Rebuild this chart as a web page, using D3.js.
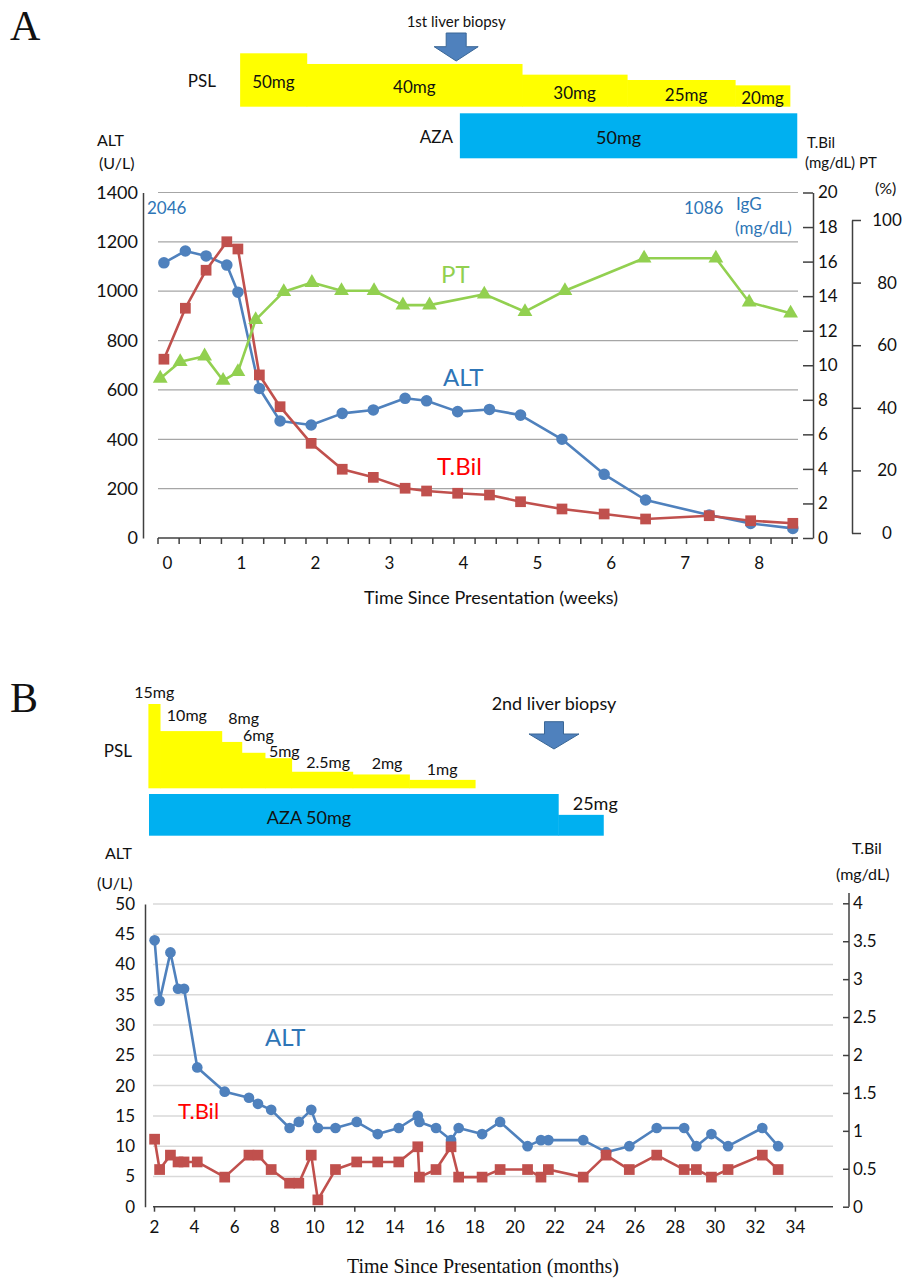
<!DOCTYPE html>
<html>
<head>
<meta charset="utf-8">
<script src="https://cdn.jsdelivr.net/npm/d3@7"></script>
<style>
  body { margin: 0; background: #fff; }
  svg text { font-family: Lato, "Open Sans", sans-serif; fill: #111; }
  .serif { font-family: "Liberation Serif", "DejaVu Serif", serif; }
</style>
</head>
<body>
<div id="chart"></div>
<script>
// ---------------- panel A (weeks) ----------------
const weeksA = [-0.04, 0.25, 0.53, 0.81, 0.96, 1.25, 1.53, 1.95, 2.37, 2.79, 3.22,
                3.51, 3.93, 4.36, 4.78, 5.34, 5.91, 6.47, 7.33, 7.89, 8.46];
const altA   = [1115, 1163, 1143, 1106, 996, 606, 474, 458, 505, 519, 566,
                556, 512, 521, 498, 400, 258, 154, 93, 59, 39];
const tbilA  = [10.35, 13.3, 15.5, 17.15, 16.73, 9.44, 7.6, 5.48, 3.98, 3.51, 2.88,
                2.72, 2.59, 2.49, 2.1, 1.68, 1.39, 1.1, 1.29, 1.0, 0.85];
const weeksPT = [-0.09, 0.18, 0.51, 0.76, 0.96, 1.2, 1.58, 1.96, 2.36, 2.8,
                 3.19, 3.55, 4.29, 4.84, 5.38, 6.45, 7.42, 7.87, 8.43];
const ptA     = [49.4, 54.7, 56.5, 48.7, 51.5, 68.1, 77.1, 80.0, 77.4, 77.4,
                 72.8, 72.8, 76.3, 70.7, 77.4, 87.8, 87.8, 73.7, 70.2];
const xTicksA = [0, 1, 2, 3, 4, 5, 6, 7, 8];

// drugs, panel A
const pslDoseA  = [50, 40, 30, 25, 20];
const pslStartA = [0.99, 1.89, 4.8, 6.22, 7.68];
const pslEndA   = [1.89, 4.8, 6.22, 7.68, 8.42];
const azaA      = [3.96, 8.52];   // start, end (50mg)
const biopsyA   = 3.91;

// ---------------- panel B (months) ----------------
const monthsB = [2.03, 2.28, 2.82, 3.2, 3.5, 4.16, 5.53, 6.74, 7.19, 7.85, 8.77, 9.23,
                 9.85, 10.18, 11.06, 12.12, 13.17, 14.22, 15.17, 15.25, 16.08, 16.83,
                 17.21, 18.38, 19.28, 20.65, 21.32, 21.69, 23.43, 24.57, 25.73, 27.1,
                 28.47, 29.08, 29.83, 30.66, 32.37, 33.16];
const altB    = [44, 34, 42, 36, 36, 23, 19, 18, 17, 16, 13, 14,
                 16, 13, 13, 14, 12, 13, 15, 14, 13, 11,
                 13, 12, 14, 10, 11, 11, 11, 9, 10, 13,
                 13, 10, 12, 10, 13, 10];
const tbilB   = [0.89, 0.49, 0.68, 0.59, 0.59, 0.59, 0.39, 0.68, 0.68, 0.49, 0.31, 0.31,
                 0.68, 0.09, 0.49, 0.59, 0.59, 0.59, 0.79, 0.39, 0.49, 0.79,
                 0.39, 0.39, 0.49, 0.49, 0.39, 0.49, 0.39, 0.68, 0.49, 0.68,
                 0.49, 0.49, 0.39, 0.49, 0.68, 0.49];
const xTicksB = [2, 4, 6, 8, 10, 12, 14, 16, 18, 20, 22, 24, 26, 28, 30, 32, 34];

// drugs, panel B
const pslDoseB   = [15, 10, 8, 6, 5, 2.5, 2, 1];
const pslStartB  = [1.72, 2.3, 5.38, 6.38, 7.54, 8.87, 11.92, 14.75];
const pslEndB    = [2.3, 5.38, 6.38, 7.54, 8.87, 11.92, 14.75, 18.03];
const azaDoseB   = [50, 25];
const azaStartB  = [1.75, 22.18];
const azaEndB    = [22.18, 24.43];
const biopsyB    = 21.97;

// label nudges for the PSL step labels in B (layout only)
const pslLabelDxB = [0, -4, 12, 5, 6, 6, 6, 0];
const pslLabelDyB = [-6, -10, -18, -12, -1, -4, -5, -5];

const C_ALT = "#4f81bd", C_TBIL = "#c0504d", C_PT = "#92d050";
const TXT_BLUE = "#2e75b6", TXT_RED = "#ff0000";
const YELLOW = "#ffff00", CYAN = "#00b0f0";
const AXIS_COL = "#404040";

const svg = d3.select("#chart").append("svg")
    .attr("width", 905)
    .attr("height", 1279);

function text(x, y, str, size, opts = {}) {
    const t = svg.append("text")
        .attr("x", x).attr("y", y)
        .style("font-size", size + "px")
        .attr("text-anchor", opts.anchor || "start")
        .text(str);
    if (opts.fill) t.style("fill", opts.fill);
    if (opts.cls) t.attr("class", opts.cls);
    return t;
}

function arrow(cx, top, neck, tip, shaftHalf, headHalf) {
    const p = d3.path();
    p.moveTo(cx - shaftHalf, top);
    p.lineTo(cx + shaftHalf, top);
    p.lineTo(cx + shaftHalf, neck);
    p.lineTo(cx + headHalf, neck);
    p.lineTo(cx, tip);
    p.lineTo(cx - headHalf, neck);
    p.lineTo(cx - shaftHalf, neck);
    p.closePath();
    svg.append("path").attr("d", p.toString())
        .attr("fill", "#4f81bd").attr("stroke", "#3a6796").attr("stroke-width", 1);
}

function series(xs, ys, x, y, color, symbol, size) {
    const pts = d3.zip(xs, ys);
    const g = svg.append("g");
    g.append("path").datum(pts)
        .attr("d", d3.line().x(d => x(d[0])).y(d => y(d[1])))
        .attr("fill", "none").attr("stroke", color).attr("stroke-width", 2.6)
        .attr("stroke-linejoin", "round");
    g.selectAll(null).data(pts).enter().append("path")
        .attr("transform", d => `translate(${x(d[0])},${y(d[1])})`)
        .attr("d", d3.symbol(symbol, size))
        .attr("fill", color);
}

function styleAxis(g) {
    g.selectAll(".domain").attr("stroke", AXIS_COL).attr("stroke-width", 1.5);
    g.selectAll(".tick line").attr("stroke", AXIS_COL).attr("stroke-width", 1.5);
    g.selectAll(".tick text").style("font-size", "17px").style("font-family", "Lato, sans-serif").attr("fill", "#111");
}

// ======================= PANEL A =======================
const xA  = d3.scaleLinear().domain([-0.12, 8.53]).range([158, 798]);
const yA  = d3.scaleLinear().domain([0, 1400]).range([538, 192.5]);
const yTA = d3.scaleLinear().domain([0, 20]).range([538, 192.5]);
const yPA = d3.scaleLinear().domain([0, 100]).range([533, 220]);
const doseA = d3.scaleLinear().domain([0, 50]).range([0, 53.4]);

text(10, 40, "A", 42, {cls: "serif"});

// drug bars
const pslBottomA = 106.7;
pslDoseA.forEach((d, i) => {
    svg.append("rect")
        .attr("x", xA(pslStartA[i])).attr("width", xA(pslEndA[i]) - xA(pslStartA[i]) + 0.5)
        .attr("y", pslBottomA - doseA(d)).attr("height", doseA(d))
        .attr("fill", YELLOW);
    const mid = pslBottomA - doseA(d) / 2;
    text((xA(pslStartA[i]) + xA(pslEndA[i])) / 2 + (i === 3 ? 5 : 0), mid + 8, d + "mg", 17, {anchor: "middle"});
});
text(216, 87, "PSL", 17, {anchor: "end"});

svg.append("rect")
    .attr("x", xA(azaA[0])).attr("width", xA(azaA[1]) - xA(azaA[0]))
    .attr("y", 113.3).attr("height", 45)
    .attr("fill", CYAN);
text((xA(azaA[0]) + xA(azaA[1])) / 2 - 10, 144, "50mg", 18, {anchor: "middle"});
text(453, 143, "AZA", 17, {anchor: "end"});

text(xA(biopsyA), 27, "1st liver biopsy", 15, {anchor: "middle"});
arrow(xA(biopsyA), 33, 46.7, 61, 10, 22);

// axis titles
text(97, 146, "ALT", 16);
text(99, 169, "(U/L)", 16);
text(807, 148, "T.Bil", 15);
text(805, 168, "(mg/dL) PT", 15);
text(875, 194, "(%)", 16);

// gridlines
svg.append("g").selectAll("line").data(d3.range(200, 1401, 200)).enter().append("line")
    .attr("x1", 158).attr("x2", 798)
    .attr("y1", d => yA(d)).attr("y2", d => yA(d))
    .attr("stroke", "#a6a6a6").attr("stroke-width", 1.2);

// left axis
const gLA = svg.append("g").attr("transform", "translate(143,0)")
    .call(d3.axisLeft(yA).tickValues(d3.range(0, 1401, 200)).tickFormat(d3.format("d"))
        .tickSize(0).tickSizeOuter(0).tickPadding(5));
styleAxis(gLA);
gLA.selectAll(".tick text").style("font-size", "18px");

// x-axis
svg.append("line").attr("x1", 158).attr("x2", 798).attr("y1", 538).attr("y2", 538)
    .attr("stroke", AXIS_COL).attr("stroke-width", 1.5);
svg.append("g").selectAll("line").data(d3.range(-0.12, 8.53, 2 / 7)).enter().append("line")
    .attr("x1", d => xA(d)).attr("x2", d => xA(d))
    .attr("y1", 538).attr("y2", 544)
    .attr("stroke", AXIS_COL).attr("stroke-width", 1.5);
const gXA = svg.append("g").attr("transform", "translate(0,538)")
    .call(d3.axisBottom(xA).tickValues(xTicksA).tickSize(0).tickPadding(19));
gXA.select(".domain").remove();
styleAxis(gXA);
text(491, 604, "Time Since Presentation (weeks)", 18, {anchor: "middle"});

// right T.Bil axis
const gRA = svg.append("g").attr("transform", "translate(813,0)")
    .call(d3.axisRight(yTA).tickValues(d3.range(0, 21, 2)).tickSize(-10).tickSizeOuter(0).tickPadding(5));
styleAxis(gRA);

// PT axis
const gPA = svg.append("g").attr("transform", "translate(852,0)")
    .call(d3.axisRight(yPA).tickValues(d3.range(0, 101, 20)).tickSize(9).tickSizeOuter(0));
styleAxis(gPA);
gPA.selectAll(".tick text").attr("x", 35).attr("text-anchor", "middle");

// IgG notes
text(147, 214, "2046", 17, {fill: TXT_BLUE});
text(684, 214, "1086", 17, {fill: TXT_BLUE});
text(736, 210, "IgG", 17, {fill: TXT_BLUE});
text(735, 234, "(mg/dL)", 17, {fill: TXT_BLUE});

// series
series(weeksA, altA, xA, yA, C_ALT, d3.symbolCircle, 105);
series(weeksA, tbilA, xA, yTA, C_TBIL, d3.symbolSquare, 115);
series(weeksPT, ptA, xA, yPA, C_PT, d3.symbolTriangle, 95);

text(441, 283, "PT", 24, {fill: C_PT});
text(443, 386, "ALT", 24, {fill: TXT_BLUE});
text(437, 475, "T.Bil", 24, {fill: TXT_RED});

// ======================= PANEL B =======================
const xB  = d3.scaleLinear().domain([1.95, 35.9]).range([153, 833]);
const yB  = d3.scaleLinear().domain([0, 50]).range([1206.7, 904]);
const yTB = d3.scaleLinear().domain([0, 4]).range([1206.7, 903.3]);
const doseB = d3.scaleLinear().domain([0, 15]).range([3, 84.3]);

text(10, 712, "B", 42, {cls: "serif"});

// PSL steps
const pslBottomB = 788.3;
pslDoseB.forEach((d, i) => {
    svg.append("rect")
        .attr("x", xB(pslStartB[i])).attr("width", xB(pslEndB[i]) - xB(pslStartB[i]) + 0.5)
        .attr("y", pslBottomB - doseB(d)).attr("height", doseB(d))
        .attr("fill", YELLOW);
    const cx = (xB(pslStartB[i]) + xB(pslEndB[i])) / 2;
    text(cx + pslLabelDxB[i], pslBottomB - doseB(d) + pslLabelDyB[i], d + "mg", 16, {anchor: "middle"});
});
text(132, 757, "PSL", 17, {anchor: "end"});

// AZA steps
const azaBottomB = 835.7;
const azaH = d3.scaleLinear().domain([0, 50]).range([0, 41.7]);
azaDoseB.forEach((d, i) => {
    svg.append("rect")
        .attr("x", xB(azaStartB[i])).attr("width", xB(azaEndB[i]) - xB(azaStartB[i]) + 0.5)
        .attr("y", azaBottomB - azaH(d)).attr("height", azaH(d))
        .attr("fill", CYAN);
});
text(309, 824, "AZA 50mg", 18, {anchor: "middle"});
text(xB(azaEndB[1]) - 8, 810, "25mg", 18, {anchor: "middle"});

text(xB(biopsyB), 710, "2nd liver biopsy", 18, {anchor: "middle"});
arrow(xB(biopsyB), 721.7, 734, 749, 9.5, 25);

// axis titles
text(105, 859, "ALT", 16);
text(97, 889, "(U/L)", 16);
text(852, 854, "T.Bil", 16);
text(836, 880, "(mg/dL)", 16);

// gridlines
svg.append("g").selectAll("line").data(d3.range(5, 51, 5)).enter().append("line")
    .attr("x1", 153).attr("x2", 833)
    .attr("y1", d => yB(d)).attr("y2", d => yB(d))
    .attr("stroke", "#d9d9d9").attr("stroke-width", 1.5);

// left axis
const gLB = svg.append("g").attr("transform", "translate(145,0)")
    .call(d3.axisLeft(yB).tickValues(d3.range(0, 51, 5)).tickSize(0).tickSizeOuter(0).tickPadding(10));
styleAxis(gLB);

// x-axis
svg.append("line").attr("x1", 153).attr("x2", 833).attr("y1", 1206.7).attr("y2", 1206.7)
    .attr("stroke", AXIS_COL).attr("stroke-width", 1.5);
const gXB = svg.append("g").attr("transform", "translate(0,1206.7)")
    .call(d3.axisBottom(xB).tickValues(xTicksB).tickSize(5).tickPadding(9));
gXB.select(".domain").remove();
styleAxis(gXB);
text(483, 1273, "Time Since Presentation (months)", 20, {anchor: "middle", cls: "serif"});

// right T.Bil axis
const gRB = svg.append("g").attr("transform", "translate(849,0)")
    .call(d3.axisRight(yTB).tickValues(d3.range(0, 4.01, 0.5)).tickSize(-6).tickSizeOuter(0).tickPadding(4)
        .tickFormat(d3.format("~g")));
styleAxis(gRB);
gRB.select(".domain").attr("d", `M0,${yTB(0)}V893`);

// series
series(monthsB, altB, xB, yB, C_ALT, d3.symbolCircle, 90);
series(monthsB, tbilB, xB, yTB, C_TBIL, d3.symbolSquare, 115);

text(265, 1046, "ALT", 24, {fill: TXT_BLUE});
text(178, 1119, "T.Bil", 22, {fill: TXT_RED});
</script>
</body>
</html>
